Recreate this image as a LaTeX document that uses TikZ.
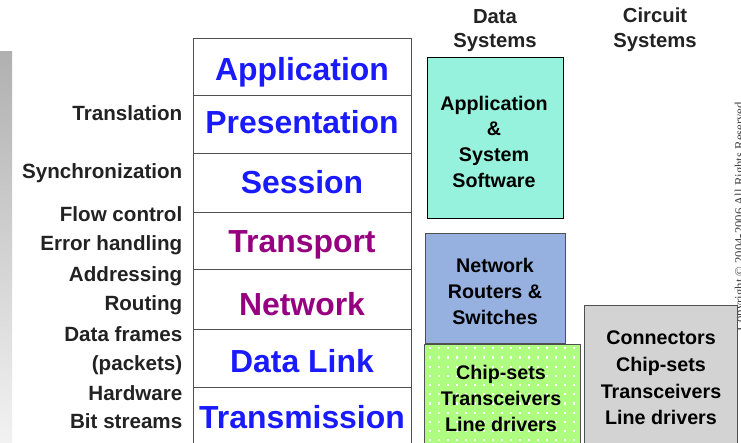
\documentclass[tikz,border=0pt]{standalone}
\usepackage{fontspec}
\setmainfont{Liberation Sans}
\newfontfamily\crfont{Liberation Serif}
\definecolor{layerblue}{RGB}{26,26,255}
\definecolor{layerpurple}{RGB}{150,0,128}
\definecolor{labelgray}{RGB}{34,34,34}
\definecolor{cyanfill}{RGB}{150,242,220}
\definecolor{bluefill}{RGB}{150,176,224}
\definecolor{greenfill}{RGB}{174,252,128}
\definecolor{grayfill}{RGB}{211,211,211}
\definecolor{rowline}{RGB}{80,80,80}
\definecolor{bartop}{RGB}{176,176,176}
\definecolor{barbottom}{RGB}{242,242,242}
\begin{document}
\begin{tikzpicture}[x=1pt,y=-1pt,
  layerbox/.style={draw=rowline, line width=1pt, minimum width=218pt, anchor=north west, inner sep=0pt},
  layertext/.style={font=\bfseries\fontsize{31.9}{31.9}\selectfont, anchor=base, inner sep=0pt},
  sidelabel/.style={font=\bfseries\fontsize{20.6}{20.6}\selectfont, text=labelgray, anchor=base east, inner sep=0pt},
  header/.style={font=\bfseries\fontsize{20.3}{24.3}\selectfont, text=labelgray, align=center, anchor=north, inner sep=0pt},
  sysbox/.style={draw=rowline, line width=1pt, anchor=north west, inner sep=0pt},
  boxtext/.style={align=center, anchor=north, inner sep=0pt, text=black}]
\useasboundingbox (0,0) rectangle (741,442);
\fill[white] (0,0) rectangle (741,442);
\clip (0,0) rectangle (741,442);

% gradient bar at the left edge
\shade[top color=bartop, bottom color=barbottom] (0,51) rectangle (12,442);

% copyright (cut off at the right edge, as in the reference)
\node[font=\crfont\fontsize{12.7}{12.7}\selectfont, text=black!75, rotate=90, anchor=base east, inner sep=0pt] (copy) at (743.5,102) {Copyright © 2004-2006 All Rights Reserved};

% OSI layer stack
\node[layerbox, minimum height=57pt] (app) at (193,38) {};
\node[layerbox, minimum height=58pt] (pres) at (193,95) {};
\node[layerbox, minimum height=59pt] (sess) at (193,153) {};
\node[layerbox, minimum height=57pt] (trans) at (193,212) {};
\node[layerbox, minimum height=60pt] (net) at (193,269) {};
\node[layerbox, minimum height=58pt] (dl) at (193,329) {};
\node[layerbox, minimum height=62pt] (tx) at (193,387) {};

\node[layertext, text=layerblue] (tapp) at (302,80) {Application};
\node[layertext, text=layerblue] (tpres) at (302,133) {Presentation};
\node[layertext, text=layerblue] (tsess) at (302,193) {Session};
\node[layertext, text=layerpurple] (ttrans) at (302,252) {Transport};
\node[layertext, text=layerpurple] (tnet) at (302,315) {Network};
\node[layertext, text=layerblue] (tdl) at (302,372) {Data Link};
\node[layertext, text=layerblue] (ttx) at (302,428) {Transmission};

% side labels
\node[sidelabel] (l1) at (182.5,120) {Translation};
\node[sidelabel] (l2) at (182.5,178.3) {Synchronization};
\node[sidelabel] (l3) at (182.5,221.7) {Flow control};
\node[sidelabel] (l4) at (182.5,250) {Error handling};
\node[sidelabel] (l5) at (182.5,281.7) {Addressing};
\node[sidelabel] (l6) at (182.5,310) {Routing};
\node[sidelabel] (l7) at (182.5,341.7) {Data frames};
\node[sidelabel] (l8) at (182.5,370) {(packets)};
\node[sidelabel] (l9) at (182.5,400) {Hardware};
\node[sidelabel] (l10) at (182.5,428.3) {Bit streams};

% headers
\node[header] (hdata) at (495,9.5) {Data\\Systems};
\node[header] (hcirc) at (655,8) {Circuit\\Systems};

% data systems boxes
\node[sysbox, draw=black, fill=cyanfill, minimum width=136pt, minimum height=161pt] (swbox) at (427,57) {};
\node[sysbox, fill=bluefill, minimum width=140pt, minimum height=110pt] (netbox) at (425,233) {};
\node[sysbox, draw=none, fill=greenfill, minimum width=155pt, minimum height=103pt] (chipbox) at (424,344) {};
\begin{scope}
  \clip (chipbox.north west) rectangle (chipbox.south east);
  \foreach \i in {0,...,16}{
    \foreach \j in {0,...,10}{
      \fill[white] ({430+9*\i-1.1},{350.5+9.2*\j-1.1}) rectangle ++(2.2,-2.2);
    }
  }
\end{scope}
\draw[rowline, line width=1pt] (chipbox.north west) rectangle (chipbox.south east);

% circuit systems box
\node[sysbox, fill=grayfill, minimum width=153pt, minimum height=142pt] (cbox) at (584,305) {};

% box texts
\node[boxtext, font=\bfseries\fontsize{19.7}{25.6}\selectfont] (swtext) at (494,95.8) {Application\\\&\\System\\Software};
\node[boxtext, font=\bfseries\fontsize{19.7}{25.7}\selectfont] (nettext) at (495,258.5) {Network\\Routers \&\\Switches};
\node[boxtext, font=\bfseries\fontsize{19.7}{26.2}\selectfont] (chiptext) at (501,365) {Chip-sets\\Transceivers\\Line drivers};
\node[boxtext, font=\bfseries\fontsize{19.7}{26.7}\selectfont] (ctext) at (661,330.7) {Connectors\\Chip-sets\\Transceivers\\Line drivers};
\end{tikzpicture}
\end{document}
